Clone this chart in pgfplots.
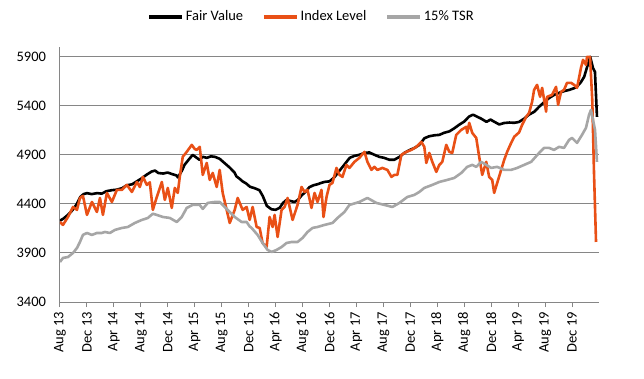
\documentclass[border=0pt]{standalone}
\usepackage{fontspec}
\setmainfont{Carlito}
\usepackage{pgfplots}
\pgfplotsset{compat=1.18}
\definecolor{idx}{RGB}{233,80,22}
\definecolor{tsr}{RGB}{166,166,166}
\definecolor{gridc}{RGB}{134,134,134}
\begin{document}
\fontsize{14.5}{17}\selectfont
\begin{tikzpicture}
\useasboundingbox (-60pt,-76pt) rectangle (584pt,302pt);
\begin{axis}[
 scale only axis, width=539pt, height=255pt,
 xmin=0, xmax=80, ymin=3400, ymax=6000,
 ytick={3400,3900,4400,4900,5400,5900},
 xtick={0,4,...,76},
 xticklabels={Aug 13,Dec 13,Apr 14,Aug 14,Dec 14,Apr 15,Aug 15,Dec 15,Apr 16,Aug 16,Dec 16,Apr 17,Aug 17,Dec 17,Apr 18,Aug 18,Dec 18,Apr 19,Aug 19,Dec 19},
 axis x line*=bottom, axis y line*=left,
 axis line style={gridc, line width=1pt},
 ymajorgrids, grid style={gridc, line width=1pt},
 ytick style={draw=none},
 xtick style={gridc, line width=1pt}, tick align=outside, major tick length=5pt,
 xticklabel style={rotate=90, anchor=east},
 yticklabel style={xshift=-4pt},
 /pgf/number format/assume math mode=true,
 /pgf/number format/1000 sep={},
 scaled y ticks=false,
 legend columns=-1,
 legend style={draw=none, fill=none, at={(0.4666,1.118)}, anchor=center,
   /tikz/every even column/.append style={column sep=17pt}},
 legend image code/.code={\draw[#1, line width=3.5pt] (0pt,0pt) -- (33pt,0pt);},
 every axis plot/.append style={line width=2.6pt, line join=round},
]
\addplot[black, mark=none] coordinates {
(0,4230)(0.5,4250)(1.2,4290)(1.9,4340)(2.5,4400)(3.0,4470)(3.5,4500)(4.0,4510)
(4.7,4500)(5.5,4510)(6.2,4505)(6.9,4530)(7.7,4540)(8.4,4545)(9.2,4560)(9.9,4590)
(10.7,4600)(11.4,4630)(12.1,4660)(12.9,4700)(13.6,4730)(14.1,4740)(14.6,4715)
(15.3,4710)(16.0,4720)(16.6,4705)(17.3,4690)(17.5,4670)(18.1,4740)(18.5,4800)
(19.2,4860)(19.7,4900)(20.3,4870)(20.7,4850)(21.2,4880)(21.8,4870)(22.4,4885)
(23.0,4880)(23.7,4860)(24.2,4830)(24.7,4800)(25.2,4770)(25.9,4720)(26.2,4680)
(26.6,4660)(27.1,4630)(27.6,4610)(28.2,4575)(28.9,4560)(29.6,4540)(30.1,4480)
(30.7,4380)(31.4,4345)(32.0,4340)(32.6,4360)(33.1,4410)(33.6,4440)(34.2,4430)
(34.8,4420)(35.3,4440)(35.9,4490)(36.4,4520)(37.0,4570)(37.6,4590)(38.2,4600)
(38.8,4615)(39.3,4625)(40.0,4630)(40.7,4670)(41.5,4740)(42.2,4800)(43.0,4870)
(43.7,4890)(44.4,4900)(45.2,4920)(45.9,4925)(46.7,4900)(47.4,4880)(48.1,4870)
(48.9,4850)(49.6,4850)(50.4,4880)(51.1,4920)(51.9,4950)(52.6,4970)(53.3,5000)
(54.1,5070)(54.8,5090)(55.6,5100)(56.3,5104)(57.0,5125)(57.8,5140)(58.5,5170)
(59.3,5210)(60.0,5240)(60.7,5290)(61.3,5310)(61.9,5290)(62.5,5270)(63.3,5237)
(63.9,5260)(64.4,5240)(65.2,5210)(65.9,5225)(66.7,5230)(67.4,5227)(68.1,5235)
(68.9,5270)(69.6,5310)(70.4,5340)(71.1,5390)(71.9,5440)(72.6,5480)(73.3,5510)
(74.1,5533)(74.8,5550)(75.6,5563)(76.3,5580)(76.7,5594)(77.3,5640)(77.8,5696)
(78.2,5788)(78.7,5900)(79.1,5788)(79.4,5747)(79.7,5288)
};
\addlegendentry{Fair Value}
\addplot[idx, mark=none] coordinates {
(0,4216)(0.44,4186)(1.19,4267)(1.93,4369)(2.52,4339)(2.96,4461)(3.41,4482)
(4.0,4288)(4.74,4420)(5.48,4318)(5.93,4461)(6.37,4288)(6.96,4512)(7.70,4420)
(8.44,4543)(9.19,4543)(9.93,4594)(10.67,4522)(11.41,4624)(11.85,4573)(12.30,4676)
(12.89,4594)(13.33,4620)(13.78,4339)(14.37,4471)(15.11,4624)(15.56,4441)(16.0,4563)
(16.59,4359)(17.04,4563)(17.48,4512)(17.78,4676)(18.22,4880)(18.81,4931)(19.56,5002)
(20.0,4960)(20.30,4951)(20.74,4982)(21.19,4696)(21.78,4818)(22.22,4645)(22.67,4716)
(23.26,4573)(23.70,4747)(24.15,4512)(24.74,4339)(25.19,4206)(25.93,4339)(26.37,4461)
(27.11,4339)(27.70,4369)(28.15,4237)(28.59,4369)(29.19,4165)(29.63,4155)(30.07,4002)
(30.67,3961)(31.11,4267)(31.56,4165)(31.85,4288)(32.30,4063)(32.89,4339)(33.33,4369)
(33.78,4461)(34.52,4237)(35.26,4390)(35.85,4573)(36.30,4522)(36.74,4543)(37.33,4359)
(37.78,4512)(38.22,4420)(38.81,4543)(39.11,4267)(39.56,4471)(40.0,4594)(40.44,4614)
(41.04,4767)(41.48,4696)(41.93,4676)(42.52,4798)(42.96,4767)(43.70,4829)(44.44,4870)
(45.19,4931)(45.63,4829)(46.22,4747)(46.67,4778)(47.11,4747)(47.85,4767)(48.59,4747)
(49.19,4676)(49.63,4696)(50.07,4696)(50.67,4900)(51.41,4931)(52.15,4951)(52.89,4982)
(53.63,5033)(54.07,4982)(54.37,4818)(54.81,4920)(55.26,4829)(55.85,4727)(56.30,4798)
(56.74,4829)(57.33,5002)(57.78,4931)(58.22,4920)(58.81,5104)(59.56,5155)(60.30,5186)
(60.44,5124)(60.74,5227)(61.19,5124)(61.78,5073)(62.22,4880)(62.67,4696)(63.26,4829)
(63.70,4676)(64.15,4645)(64.44,4512)(64.89,4614)(65.48,4747)(65.93,4849)(66.37,4931)
(66.96,5022)(67.41,5084)(68.15,5130)(68.59,5206)(69.19,5288)(69.63,5329)(70.07,5441)
(70.37,5563)(70.81,5614)(71.26,5492)(71.56,5584)(72.15,5340)(72.30,5492)(73.04,5512)
(73.63,5594)(73.93,5410)(74.37,5543)(74.81,5563)(75.26,5635)(75.85,5635)(76.30,5614)
(76.74,5584)(77.33,5788)(77.63,5869)(78.07,5818)(78.22,5900)(78.67,5900)(79.0,5461)
(79.26,4716)(79.56,4012)
};
\addlegendentry{Index Level}
\addplot[tsr, mark=none] coordinates {
(0,3808)(0.44,3849)(1.19,3859)(1.93,3900)(2.52,3951)(2.96,4012)(3.41,4084)(4.0,4104)
(4.74,4084)(5.48,4104)(6.22,4104)(6.67,4114)(7.41,4104)(8.15,4135)(9.19,4155)(10.07,4165)
(11.11,4206)(12.15,4237)(13.04,4257)(13.78,4300)(14.37,4288)(15.26,4267)(16.30,4257)
(17.33,4216)(18.07,4267)(18.81,4359)(19.70,4390)(20.74,4390)(21.19,4349)(21.93,4410)
(22.96,4420)(23.70,4420)(24.44,4369)(25.19,4318)(25.93,4267)(26.96,4216)(27.70,4216)
(28.15,4170)(28.44,4155)(29.33,4084)(30.07,4002)(30.81,3931)(31.41,3910)(32.15,3931)
(32.89,3961)(33.63,4002)(34.37,4012)(35.26,4012)(36.0,4053)(36.74,4114)(37.48,4155)
(38.22,4165)(39.26,4186)(40.44,4206)(41.19,4257)(42.22,4318)(42.96,4390)(44.44,4420)
(45.63,4461)(46.96,4410)(48.15,4390)(49.33,4369)(50.37,4410)(51.56,4471)(52.59,4492)
(53.33,4522)(54.07,4563)(55.26,4594)(56.30,4624)(57.48,4645)(58.52,4665)(59.56,4716)
(60.44,4778)(61.19,4798)(61.78,4778)(62.52,4829)(63.26,4798)(64.0,4767)(64.89,4778)
(65.93,4747)(66.96,4747)(67.85,4767)(68.89,4798)(69.93,4829)(71.11,4920)(71.85,4971)
(72.59,4971)(73.33,4951)(74.07,4982)(74.81,4971)(75.56,5053)(76.0,5073)(76.74,5022)
(77.48,5104)(78.07,5176)(78.52,5308)(78.81,5359)(79.11,5257)(79.41,5155)(79.70,4829)
};
\addlegendentry{15\% TSR}
\end{axis}
\end{tikzpicture}
\end{document}
